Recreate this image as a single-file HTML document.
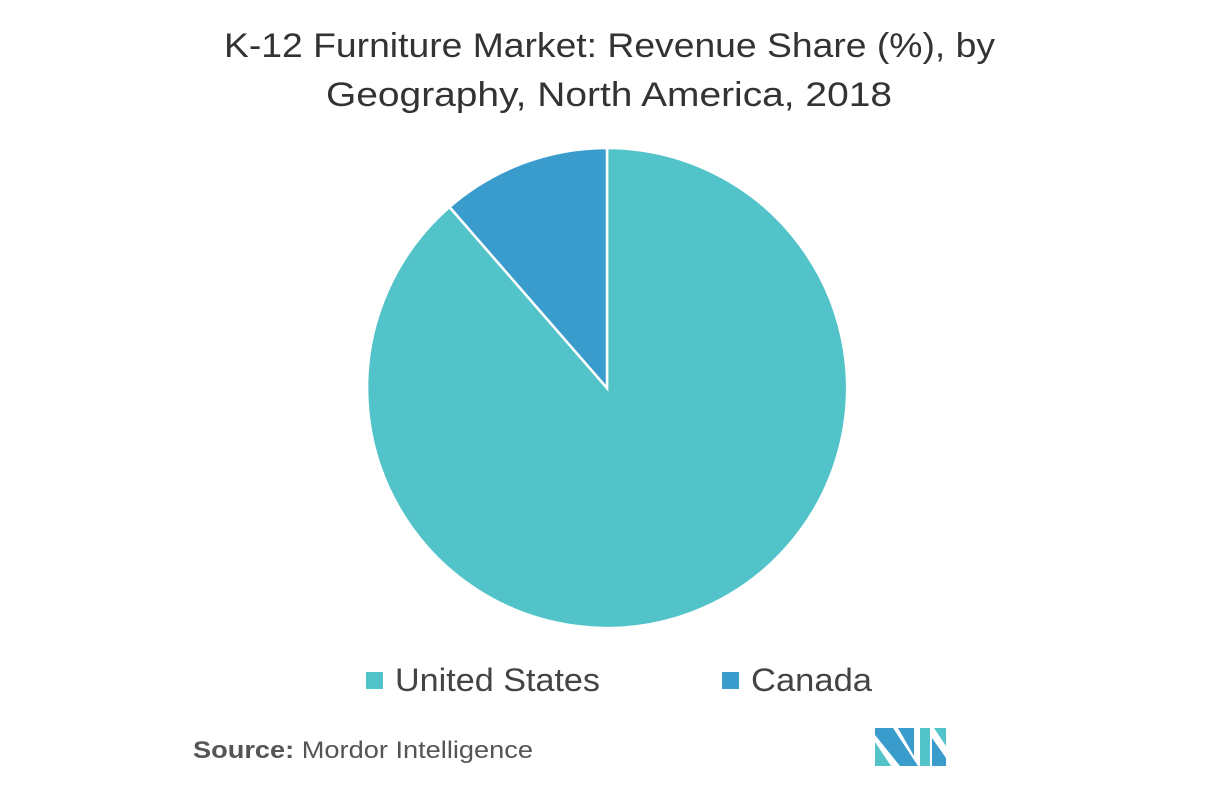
<!DOCTYPE html>
<html><head><style>
body{margin:0;width:1217px;height:786px;background:#fff;overflow:hidden;font-family:"Liberation Sans",sans-serif;}
</style></head><body>
<svg width="1217" height="786" viewBox="0 0 1217 786" xmlns="http://www.w3.org/2000/svg">
<text x="224" y="57" textLength="771" lengthAdjust="spacingAndGlyphs" font-family="Liberation Sans, sans-serif" font-size="34" fill="#333">K-12 Furniture Market: Revenue Share (%), by</text>
<text x="326" y="106" textLength="566" lengthAdjust="spacingAndGlyphs" font-family="Liberation Sans, sans-serif" font-size="34" fill="#333">Geography, North America, 2018</text>
<path d="M607,388 L607,148 A240,240 0 1 1 449.5,207 Z" fill="#52c3c8" stroke="#fff" stroke-width="2.5"/>
<path d="M607,388 L449.5,207 A240,240 0 0 1 607,148 Z" fill="#3a9ccd" stroke="#fff" stroke-width="2.5"/>
<rect x="366" y="672" width="17" height="17" fill="#52c3c8"/>
<text x="395" y="691" textLength="205" lengthAdjust="spacingAndGlyphs" font-family="Liberation Sans, sans-serif" font-size="32" fill="#444">United States</text>
<rect x="722" y="672" width="17" height="17" fill="#3a9ccd"/>
<text x="751" y="691" textLength="121" lengthAdjust="spacingAndGlyphs" font-family="Liberation Sans, sans-serif" font-size="32" fill="#444">Canada</text>
<text x="193" y="758" textLength="340" lengthAdjust="spacingAndGlyphs" font-family="Liberation Sans, sans-serif" font-size="24" fill="#555"><tspan font-weight="bold">Source:</tspan> Mordor Intelligence</text>
<polygon points="875,742 891,766 875,766" fill="#52c3c8"/>
<polygon points="875,728 893,728 918,766 900,766 875,735" fill="#3a9ccd"/>
<polygon points="898,728 914,728 914,756" fill="#3a9ccd"/>
<polygon points="920,728 930,728 930,766 920,766" fill="#52c3c8"/>
<polygon points="932,738 946,758 946,766 932,766" fill="#3a9ccd"/>
<polygon points="934,728 946,728 946,746" fill="#52c3c8"/>
</svg>
</body></html>
